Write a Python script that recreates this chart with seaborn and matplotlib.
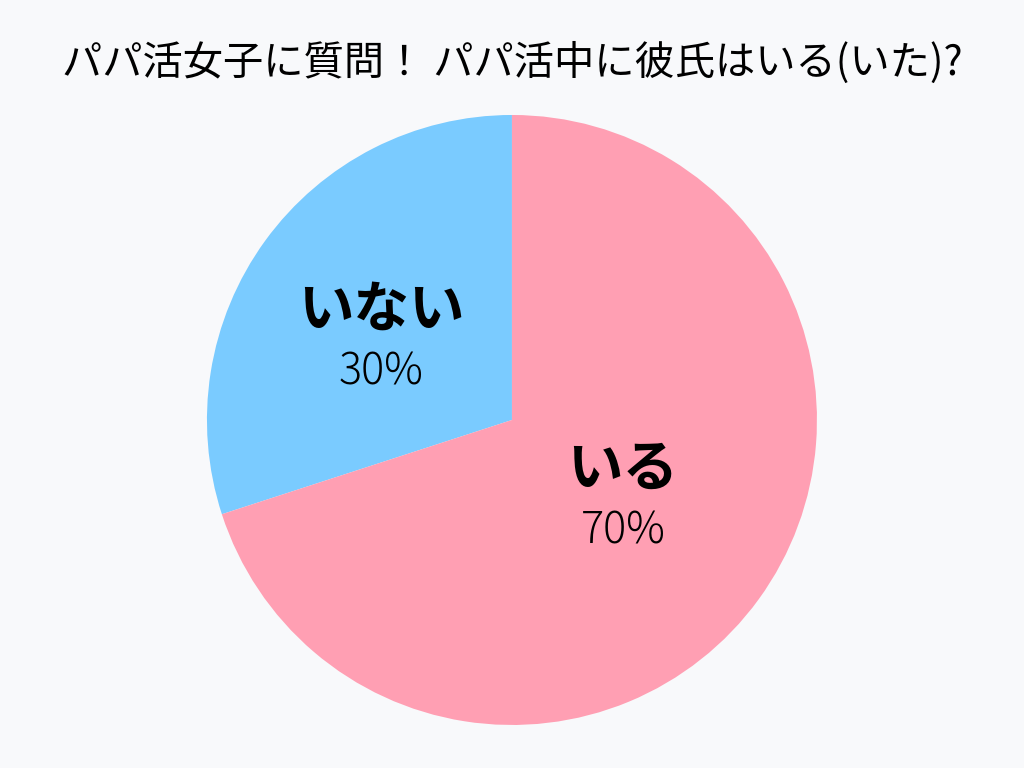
import matplotlib.pyplot as plt
import numpy as np
import seaborn as sns

sns.set_theme(style="white")
plt.rcParams["font.family"] = ["Noto Sans CJK JP", "DejaVu Sans"]

title = "パパ活女子に質問！ パパ活中に彼氏はいる(いた)?"
labels = ["いない", "いる"]
shares = [30, 70]
colors = ["#7acbff", "#ff9fb3"]
bg = "#f8f9fb"


def main() -> None:
    fig = plt.figure(figsize=(10.24, 7.68), dpi=100, facecolor=bg)
    ax = fig.add_axes([0.2021, 0.056, 0.5957, 0.7943])
    ax.set_facecolor(bg)

    wedges, _ = ax.pie(
        shares,
        colors=colors,
        startangle=90,
        counterclock=True,
        wedgeprops={"linewidth": 0},
    )
    ax.set_xlim(-1, 1)
    ax.set_ylim(-1, 1)
    ax.set_aspect("equal")

    # label group sits a bit off the wedge middle, as in the original
    radii = [0.50, 0.45]
    shifts = [5, 0]
    for wedge, label, share, r, s in zip(wedges, labels, shares, radii, shifts):
        mid = np.deg2rad((wedge.theta1 + wedge.theta2) / 2 + s)
        x, y = r * np.cos(mid), r * np.sin(mid)
        ax.text(x, y + 0.10, label, ha="center", va="center",
                fontsize=40, fontweight="bold", color="black")
        ax.text(x, y - 0.10, f"{share}%", ha="center", va="center",
                fontsize=31, fontweight="light", color="black")

    fig.text(0.5, 0.918, title, ha="center", va="center", fontsize=29, color="black")

    fig.savefig("out.png", dpi=100, facecolor=bg)
    plt.close(fig)


if __name__ == "__main__":
    main()
